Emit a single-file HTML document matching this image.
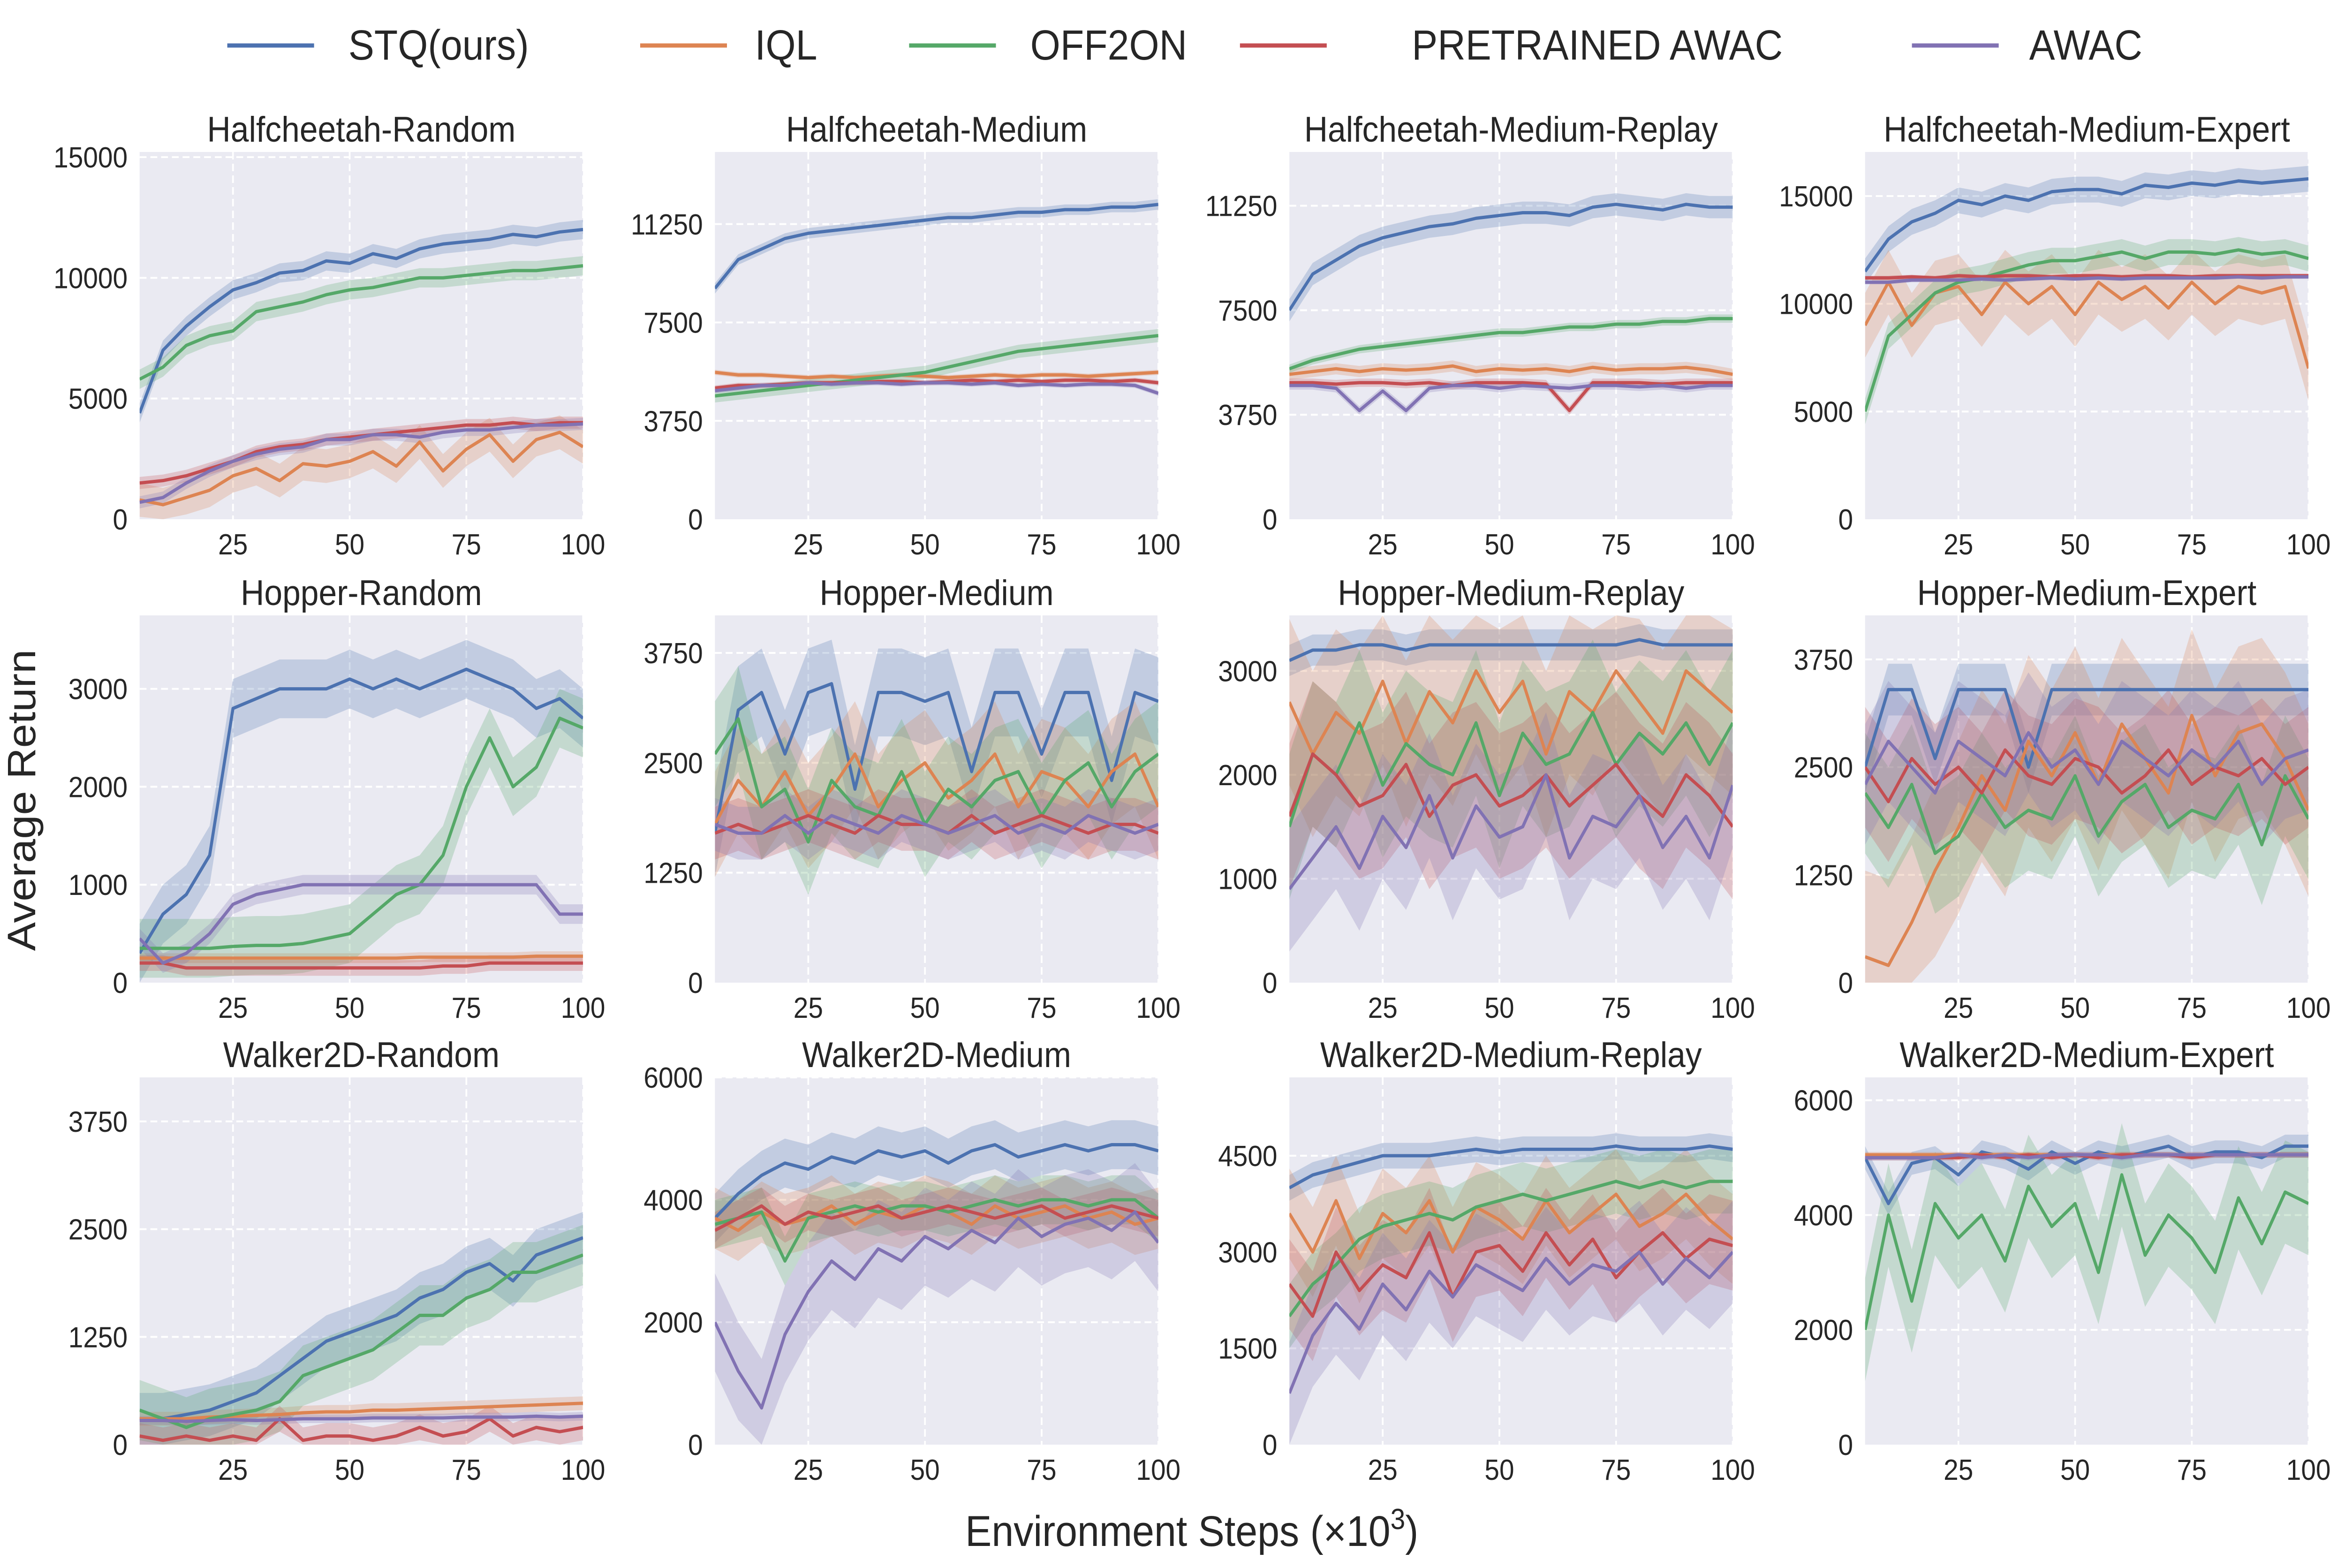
<!DOCTYPE html>
<html><head><meta charset="utf-8">
<style>
html,body{margin:0;padding:0;background:#fff;overflow:hidden;width:100%;height:100%;}
svg{display:block;width:100vw;height:100vh;}
text{font-family:"Liberation Sans",Arial,sans-serif;fill:#262626;}
</style></head>
<body>
<svg id="chart" viewBox="0 0 5458 3343" preserveAspectRatio="none" xmlns="http://www.w3.org/2000/svg">
<g id="legend"></g>
<g id="panels"></g>
<text x="0" y="0" transform="translate(82,1706) rotate(-90)" text-anchor="middle" font-size="92">Average Return</text>
<text x="2774" y="3296" text-anchor="middle" font-size="92">Environment Steps (×10<tspan font-size="62" dy="-36">3</tspan><tspan dy="36">)</tspan></text>
</svg>
<script>
const seriesNames = ["STQ(ours)","IQL","OFF2ON","PRETRAINED AWAC","AWAC"];
const colors = ["#4c72b0","#dd8452","#55a868","#c44e52","#8172b3"];
const steps = [5,10,15,20,25,30,35,40,45,50,55,60,65,70,75,80,85,90,95,100];
const xTicks = [25,50,75,100];
const titles = ["Halfcheetah-Random","Halfcheetah-Medium","Halfcheetah-Medium-Replay","Halfcheetah-Medium-Expert",
"Hopper-Random","Hopper-Medium","Hopper-Medium-Replay","Hopper-Medium-Expert",
"Walker2D-Random","Walker2D-Medium","Walker2D-Medium-Replay","Walker2D-Medium-Expert"];
const yMaxes = [15214,14000,13180,17045,3750,4177,3534,4261,4261,6000,5720,6398];
const yTicks = [[0,5000,10000,15000],[0,3750,7500,11250],[0,3750,7500,11250],[0,5000,10000,15000],
[0,1000,2000,3000],[0,1250,2500,3750],[0,1000,2000,3000],[0,1250,2500,3750],
[0,1250,2500,3750],[0,2000,4000,6000],[0,1500,3000,4500],[0,2000,4000,6000]];

const p1 = [
[4400,7000,8000,8800,9500,9800,10200,10300,10700,10600,11000,10800,11200,11400,11500,11600,11800,11700,11900,12000],
[800,600,900,1200,1800,2100,1600,2300,2200,2400,2800,2200,3200,2000,2900,3500,2400,3300,3600,3000],
[5800,6300,7200,7600,7800,8600,8800,9000,9300,9500,9600,9800,10000,10000,10100,10200,10300,10300,10400,10500],
[1500,1600,1800,2100,2400,2800,3000,3100,3300,3400,3500,3600,3700,3800,3900,3900,4000,3900,4000,4000],
[700,900,1500,2000,2400,2700,2900,3000,3300,3300,3500,3500,3400,3600,3700,3700,3800,3900,3900,3950]];
const p2 = [
[8800,9900,10300,10700,10900,11000,11100,11200,11300,11400,11500,11500,11600,11700,11700,11800,11800,11900,11900,12000],
[5600,5500,5500,5450,5400,5450,5400,5450,5500,5450,5400,5450,5500,5450,5500,5500,5450,5500,5550,5600],
[4700,4800,4900,5000,5100,5200,5300,5400,5500,5600,5800,6000,6200,6400,6500,6600,6700,6800,6900,7000],
[5000,5100,5100,5150,5200,5200,5200,5250,5250,5200,5250,5300,5250,5300,5250,5300,5300,5250,5300,5200],
[4900,5000,5100,5100,5200,5150,5200,5200,5150,5200,5200,5150,5200,5100,5150,5100,5150,5150,5100,4800]];
const p3 = [
[7500,8800,9300,9800,10100,10300,10500,10600,10800,10900,11000,11000,10900,11200,11300,11200,11100,11300,11200,11200],
[5200,5300,5400,5300,5400,5350,5400,5500,5300,5400,5350,5400,5300,5450,5350,5400,5400,5450,5350,5200],
[5400,5700,5900,6100,6200,6300,6400,6500,6600,6700,6700,6800,6900,6900,7000,7000,7100,7100,7200,7200],
[4900,4900,4850,4900,4900,4850,4900,4800,4900,4900,4900,4850,3900,4900,4900,4900,4850,4900,4900,4900],
[4800,4800,4700,3900,4600,3900,4700,4800,4800,4700,4800,4750,4700,4800,4800,4750,4800,4700,4800,4800]];
const p4 = [
[11500,13000,13800,14200,14800,14600,15000,14800,15200,15300,15300,15100,15500,15400,15600,15500,15700,15600,15700,15800],
[9000,11000,9000,10500,10800,9500,11000,10000,10800,9500,11000,10200,10800,9800,11000,10000,10800,10500,10800,7000],
[5000,8500,9500,10500,11000,11200,11500,11800,12000,12000,12200,12400,12100,12400,12400,12300,12500,12300,12400,12100],
[11200,11200,11250,11200,11300,11250,11300,11300,11250,11300,11300,11250,11300,11300,11250,11300,11300,11300,11300,11300],
[11000,11000,11100,11100,11100,11150,11100,11150,11200,11150,11200,11150,11200,11200,11200,11200,11250,11200,11250,11250]];
const p5 = [
[300,700,900,1300,2800,2900,3000,3000,3000,3100,3000,3100,3000,3100,3200,3100,3000,2800,2900,2700],
[250,250,250,250,250,250,250,250,250,250,250,250,260,260,260,260,260,270,270,270],
[350,350,350,350,370,380,380,400,450,500,700,900,1000,1300,2000,2500,2000,2200,2700,2600],
[200,200,150,150,150,150,150,150,150,150,150,150,150,170,170,200,200,200,200,200],
[450,200,300,500,800,900,950,1000,1000,1000,1000,1000,1000,1000,1000,1000,1000,1000,700,700]];
const p6 = [
[1700,3100,3300,2600,3300,3400,2200,3300,3300,3200,3300,2400,3300,3300,2600,3300,3300,2300,3300,3200],
[1800,2300,2000,2400,1900,2200,2600,2000,2300,2500,2100,2300,2600,2000,2400,2300,2000,2400,2600,2000],
[2600,3000,2000,2200,1600,2300,2000,1900,2400,1800,2200,2000,2300,2400,1900,2300,2500,2000,2400,2600],
[1700,1800,1700,1800,1900,1800,1700,1900,1800,1800,1700,1900,1700,1800,1900,1800,1700,1800,1800,1700],
[1800,1700,1700,1900,1700,1900,1800,1700,1900,1800,1700,1800,1900,1700,1800,1700,1900,1800,1700,1800]];
const p7 = [
[3100,3200,3200,3250,3250,3200,3250,3250,3250,3250,3250,3250,3250,3250,3250,3300,3250,3250,3250,3250],
[2700,2200,2600,2400,2900,2300,2800,2500,3000,2600,2900,2200,2800,2600,3000,2700,2400,3000,2800,2600],
[1500,2200,2000,2500,1900,2300,2100,2000,2500,1800,2400,2100,2200,2600,2100,2400,2200,2500,2100,2500],
[1600,2200,2000,1700,1800,2100,1600,1900,2000,1700,1800,2000,1700,1900,2100,1800,1600,2000,1800,1500],
[900,1200,1500,1100,1600,1300,1800,1200,1700,1400,1500,2000,1200,1600,1500,1800,1300,1600,1200,1900]];
const p8 = [
[2500,3400,3400,2600,3400,3400,3400,2500,3400,3400,3400,3400,3400,3400,3400,3400,3400,3400,3400,3400],
[300,200,700,1300,1800,2400,2000,2800,2400,2900,2300,3000,2600,2200,3100,2400,2900,3000,2600,2000],
[2200,1800,2300,1500,1700,2200,1800,2000,1900,2400,1700,2100,2300,1800,2000,1900,2300,1600,2400,1900],
[2500,2100,2600,2300,2500,2200,2700,2400,2300,2600,2500,2200,2400,2700,2300,2500,2400,2600,2300,2500],
[2300,2800,2500,2200,2800,2600,2400,2900,2500,2700,2300,2800,2600,2400,2700,2500,2800,2300,2600,2700]];
const p9 = [
[300,300,350,400,500,600,800,1000,1200,1300,1400,1500,1700,1800,2000,2100,1900,2200,2300,2400],
[300,300,300,320,330,340,350,370,380,380,400,400,410,420,430,440,450,460,470,480],
[400,300,200,300,350,400,500,800,900,1000,1100,1300,1500,1500,1700,1800,2000,2000,2100,2200],
[100,50,100,50,100,50,300,50,100,100,50,100,200,100,150,300,100,200,150,200],
[280,280,270,280,290,280,290,300,300,300,310,310,310,310,320,320,320,330,320,330]];
const p10 = [
[3700,4100,4400,4600,4500,4700,4600,4800,4700,4800,4600,4800,4900,4700,4800,4900,4800,4900,4900,4800],
[3700,3500,3800,3600,3700,3900,3600,3800,3700,3900,3800,3600,3900,3700,3800,3900,3700,3800,3600,3700],
[3600,3700,3800,3000,3700,3800,3900,3800,3900,3900,3800,3900,4000,3900,4000,4000,3900,4000,4000,3700],
[3500,3700,3900,3600,3800,3700,3800,3900,3700,3800,3900,3800,3700,3800,3900,3700,3800,3900,3800,3700],
[2000,1200,600,1800,2500,3000,2700,3200,3000,3400,3200,3500,3300,3700,3400,3600,3700,3500,3800,3300]];
const p11 = [
[4000,4200,4300,4400,4500,4500,4500,4550,4600,4550,4600,4600,4600,4600,4650,4600,4600,4600,4650,4600],
[3600,3000,3800,2900,3600,3300,3800,3000,3700,3500,3200,3800,3300,3600,3900,3400,3600,3900,3500,3200],
[2000,2500,2800,3200,3400,3500,3600,3500,3700,3800,3900,3800,3900,4000,4100,4000,4100,4000,4100,4100],
[2500,2000,3000,2400,2800,2600,3300,2300,3000,3100,2700,3300,2800,3200,2600,3000,3300,2900,3200,3100],
[800,1700,2200,1800,2500,2100,2700,2300,2800,2600,2400,2900,2500,2800,2700,3000,2500,2900,2600,3000]];
const p12 = [
[5000,4200,4900,5000,4700,5100,5000,4800,5100,4900,5100,5000,5100,5200,5000,5100,5100,5000,5200,5200],
[5050,5050,5050,5050,5050,5050,5050,5050,5050,5050,5050,5050,5050,5050,5050,5050,5050,5050,5050,5050],
[2000,4000,2500,4200,3600,4000,3200,4500,3800,4200,3000,4700,3300,4000,3600,3000,4300,3500,4400,4200],
[5000,5000,5000,5000,5000,5050,5000,5050,5000,5050,5000,5050,5050,5050,5000,5050,5050,5050,5050,5050],
[5000,5000,5000,5000,5050,5000,5050,5000,5050,5050,5050,5000,5050,5050,5050,5050,5050,5050,5050,5050]];
const panelData = [p1,p2,p3,p4,p5,p6,p7,p8,p9,p10,p11,p12];
const bandStd = [
[400,700,400,250,250],[200,100,250,100,100],[400,200,150,150,150],[600,1500,600,100,100],
[300,50,300,80,100],[500,600,600,300,300],[150,800,700,700,600],[300,1000,700,700,700],
[300,80,350,150,50],[400,500,400,300,800],[200,700,500,700,800],[200,50,900,50,50]];

const NS = "http://www.w3.org/2000/svg";
function mk(tag, attrs, parent){ const e=document.createElementNS(NS,tag); for(const k in attrs) e.setAttribute(k,attrs[k]); if(parent) parent.appendChild(e); return e; }

const legend = document.getElementById('legend');
const legLineX = [529,1490,2116,2886,4450];
const legTextX = [811,1757,2398,3286,4723];
seriesNames.forEach((n,i)=>{
  const g = mk('g',{},legend);
  
  
  mk('line',{x1:legLineX[i],x2:legLineX[i]+202,y1:97,y2:97,stroke:colors[i],'stroke-width':9},g);
  const t = mk('text',{x:legTextX[i],y:127,'font-size':90},g);
  t.textContent = n;
});

const lefts = [325,1664,3001,4341];
const tops = [324,1312,2297];
const W = 1032, H = 783;
const XMIN = 5, XMAX = 100;
const panels = document.getElementById('panels');
titles.forEach((title,pi)=>{
  const col = pi%4, row = Math.floor(pi/4);
  const L = lefts[col], T = tops[row];
  const ymax = yMaxes[pi];
  const xs = v => L + (v-XMIN)/(XMAX-XMIN)*W;
  const ys = v => T + H - Math.max(0,Math.min(v,ymax))/ymax*H;
  const g = mk('g',{},panels);
  
  
  const bg = mk('rect',{x:L,y:T,width:W,height:H,fill:'#eaeaf2'},g);
  
  
  yTicks[pi].forEach(tv=>{
    const y = ys(tv);
    if(tv>0) mk('line',{x1:L,x2:L+W,y1:y,y2:y,stroke:'#fff','stroke-width':4,'stroke-dasharray':'16 9'},g);
    const t = mk('text',{x:L-28,y:y+22,'text-anchor':'end','font-size':62},g);
    
    
    t.textContent = tv;
  });
  xTicks.forEach(tv=>{
    const x = xs(tv);
    mk('line',{x1:x,x2:x,y1:T,y2:T+H,stroke:'#fff','stroke-width':4,'stroke-dasharray':'16 9'},g);
    const t = mk('text',{x:x,y:T+H+75,'text-anchor':'middle','font-size':62},g);
    
    
    t.textContent = tv;
  });
  const tt = mk('text',{x:L+W/2,y:T-22,'text-anchor':'middle','font-size':76},g);
  
  
  tt.textContent = title;
  const clipId = 'clip'+pi;
  const cp = mk('clipPath',{id:clipId},g);
  mk('rect',{x:L,y:T,width:W,height:H},cp);
  const data = panelData[pi];
  const layer = mk('g',{'clip-path':'url(#'+clipId+')'},g);
  data.forEach((vals,si)=>{
    const sd = bandStd[pi][si];
    const up = vals.map((v,k)=>xs(steps[k])+','+ys(v+sd));
    const dn = vals.map((v,k)=>xs(steps[k])+','+ys(v-sd)).reverse();
    const b = mk('polygon',{points:up.concat(dn).join(' '),fill:colors[si],'fill-opacity':0.25,stroke:'none'},layer);
    
    
  });
  data.forEach((vals,si)=>{
    const pts = vals.map((v,k)=>xs(steps[k])+','+ys(v)).join(' ');
    const pl = mk('polyline',{points:pts,fill:'none',stroke:colors[si],'stroke-width':7,'stroke-linejoin':'round'},layer);
    
    
  });
});
</script>
</body></html>
